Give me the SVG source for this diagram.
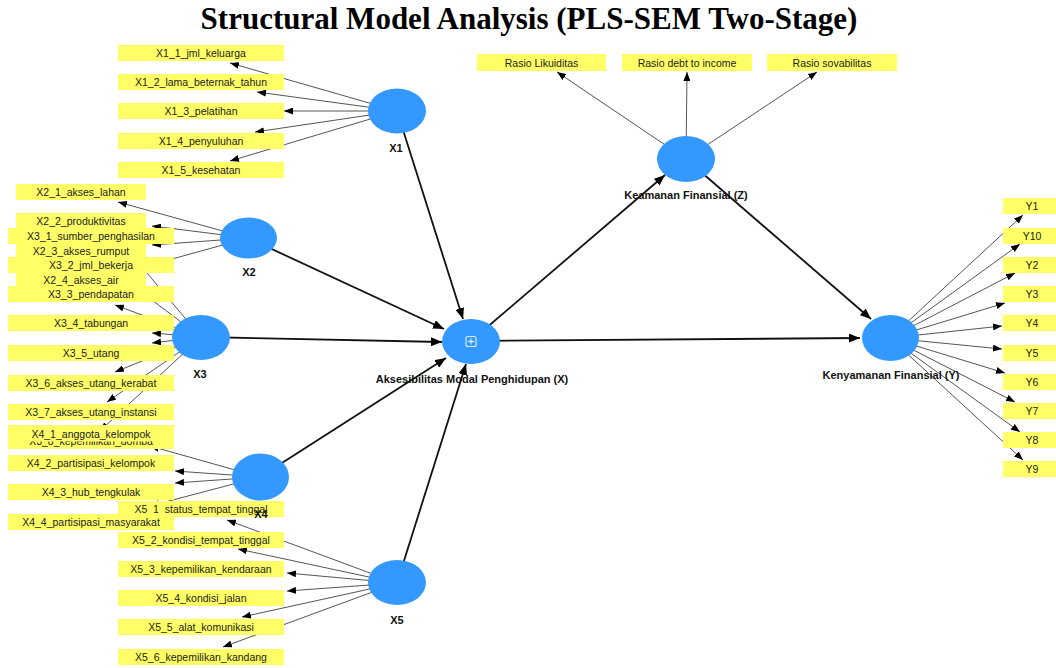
<svg xmlns="http://www.w3.org/2000/svg" width="1056" height="668" viewBox="0 0 1056 668">
<style>
.ind rect{fill:#FFFF66}
.ind text{font-family:"Liberation Sans",Arial,sans-serif;font-size:10.5px;fill:#222;text-anchor:middle}
.lat ellipse{fill:#3399FF}
.lat text{font-family:"Liberation Sans",Arial,sans-serif;font-size:11px;font-weight:bold;fill:#111;text-anchor:middle}
.out{stroke:#555;stroke-width:1;fill:none;marker-end:url(#ah)}
.str{stroke:#111;stroke-width:1.8;fill:none;marker-end:url(#ahb)}
.title{font-family:"Liberation Serif","Times New Roman",serif;font-size:31px;font-weight:bold;fill:#000;text-anchor:middle}
</style>
<defs>
<marker id="ah" markerUnits="userSpaceOnUse" markerWidth="9" markerHeight="7" refX="9" refY="3.5" orient="auto"><path d="M0,0 L9,3.5 L0,7 z" fill="#000"/></marker>
<marker id="ahb" markerUnits="userSpaceOnUse" markerWidth="11" markerHeight="9" refX="11" refY="4.5" orient="auto"><path d="M0,0 L11,4.5 L0,9 z" fill="#000"/></marker>
</defs>
<rect width="1056" height="668" fill="#fff"/>
<text class="title" x="529" y="29">Structural Model Analysis (PLS-SEM Two-Stage)</text>

<g id="connectors">
<line class="out" x1="397" y1="111" x2="230" y2="63"/>
<line class="out" x1="397" y1="111" x2="257" y2="92"/>
<line class="out" x1="397" y1="111" x2="284" y2="111"/>
<line class="out" x1="397" y1="111" x2="255" y2="132"/>
<line class="out" x1="397" y1="111" x2="230" y2="161"/>
<line class="out" x1="248" y1="238" x2="118" y2="202"/>
<line class="out" x1="248" y1="238" x2="152" y2="226"/>
<line class="out" x1="248" y1="238" x2="152" y2="245"/>
<line class="out" x1="248" y1="238" x2="125" y2="272"/>
<line class="out" x1="201" y1="337" x2="125" y2="247"/>
<line class="out" x1="201" y1="337" x2="120" y2="276"/>
<line class="out" x1="201" y1="337" x2="115" y2="305"/>
<line class="out" x1="201" y1="337" x2="152" y2="333"/>
<line class="out" x1="201" y1="337" x2="152" y2="343"/>
<line class="out" x1="201" y1="337" x2="115" y2="372"/>
<line class="out" x1="201" y1="337" x2="107" y2="402"/>
<line class="out" x1="201" y1="337" x2="100" y2="431"/>
<line class="out" x1="260" y1="477" x2="150" y2="446"/>
<line class="out" x1="260" y1="477" x2="175" y2="471"/>
<line class="out" x1="260" y1="477" x2="175" y2="483"/>
<line class="out" x1="260" y1="477" x2="150" y2="506"/>
<line class="out" x1="397" y1="583" x2="227" y2="520"/>
<line class="out" x1="397" y1="583" x2="238" y2="549"/>
<line class="out" x1="397" y1="583" x2="287" y2="573"/>
<line class="out" x1="397" y1="583" x2="287" y2="591"/>
<line class="out" x1="397" y1="583" x2="242" y2="617"/>
<line class="out" x1="397" y1="583" x2="223" y2="647"/>
<line class="out" x1="686" y1="159" x2="557" y2="72"/>
<line class="out" x1="686" y1="159" x2="687" y2="72"/>
<line class="out" x1="686" y1="159" x2="817" y2="72"/>
<line class="out" x1="890" y1="338" x2="1023" y2="215"/>
<line class="out" x1="890" y1="338" x2="1020" y2="244"/>
<line class="out" x1="890" y1="338" x2="1015" y2="273"/>
<line class="out" x1="890" y1="338" x2="1005" y2="303"/>
<line class="out" x1="890" y1="338" x2="1002" y2="326"/>
<line class="out" x1="890" y1="338" x2="1002" y2="349"/>
<line class="out" x1="890" y1="338" x2="1005" y2="373"/>
<line class="out" x1="890" y1="338" x2="1015" y2="402"/>
<line class="out" x1="890" y1="338" x2="1020" y2="432"/>
<line class="out" x1="890" y1="338" x2="1023" y2="460"/>
<line class="str" x1="397" y1="111" x2="463" y2="319"/>
<line class="str" x1="248" y1="238" x2="444" y2="329"/>
<line class="str" x1="201" y1="337" x2="442" y2="342"/>
<line class="str" x1="260" y1="477" x2="446" y2="358"/>
<line class="str" x1="397" y1="583" x2="466" y2="364"/>
<line class="str" x1="471" y1="341" x2="665" y2="175"/>
<line class="str" x1="686" y1="159" x2="871" y2="319"/>
<line class="str" x1="471" y1="341" x2="860" y2="338"/>
</g>

<g id="X1_1" class="ind"><rect x="118" y="45" width="166" height="16"/><text x="201" y="57">X1_1_jml_keluarga</text></g>
<g id="X1_2" class="ind"><rect x="118" y="74" width="166" height="16"/><text x="201" y="86">X1_2_lama_beternak_tahun</text></g>
<g id="X1_3" class="ind"><rect x="118" y="103" width="166" height="16"/><text x="201" y="115">X1_3_pelatihan</text></g>
<g id="X1_4" class="ind"><rect x="118" y="133" width="166" height="16"/><text x="201" y="145">X1_4_penyuluhan</text></g>
<g id="X1_5" class="ind"><rect x="118" y="162" width="166" height="16"/><text x="201" y="174">X1_5_kesehatan</text></g>

<g id="Z_1" class="ind"><rect x="477" y="54" width="129" height="17"/><text x="541.5" y="66.5">Rasio Likuiditas</text></g>
<g id="Z_2" class="ind"><rect x="622" y="54" width="130" height="17"/><text x="687" y="66.5">Rasio debt to income</text></g>
<g id="Z_3" class="ind"><rect x="767" y="54" width="130" height="17"/><text x="832" y="66.5">Rasio sovabilitas</text></g>

<g id="Y1" class="ind"><rect x="1003" y="198" width="58" height="16"/><text x="1032" y="210">Y1</text></g>
<g id="Y10" class="ind"><rect x="1003" y="228" width="58" height="16"/><text x="1032" y="240">Y10</text></g>
<g id="Y2" class="ind"><rect x="1003" y="257" width="58" height="16"/><text x="1032" y="269">Y2</text></g>
<g id="Y3" class="ind"><rect x="1003" y="286" width="58" height="16"/><text x="1032" y="298">Y3</text></g>
<g id="Y4" class="ind"><rect x="1003" y="315" width="58" height="16"/><text x="1032" y="327">Y4</text></g>
<g id="Y5" class="ind"><rect x="1003" y="345" width="58" height="16"/><text x="1032" y="357">Y5</text></g>
<g id="Y6" class="ind"><rect x="1003" y="374" width="58" height="16"/><text x="1032" y="386">Y6</text></g>
<g id="Y7" class="ind"><rect x="1003" y="403" width="58" height="16"/><text x="1032" y="415">Y7</text></g>
<g id="Y8" class="ind"><rect x="1003" y="432" width="58" height="16"/><text x="1032" y="444">Y8</text></g>
<g id="Y9" class="ind"><rect x="1003" y="461" width="58" height="16"/><text x="1032" y="473">Y9</text></g>

<g id="X2_1" class="ind"><rect x="16" y="184" width="130" height="16"/><text x="81" y="196">X2_1_akses_lahan</text></g>
<g id="X2_2" class="ind"><rect x="16" y="213" width="130" height="16"/><text x="81" y="225">X2_2_produktivitas</text></g>
<g id="X3_1" class="ind"><rect x="8" y="228" width="166" height="16"/><text x="91" y="240">X3_1_sumber_penghasilan</text></g>
<g id="X2_3" class="ind"><rect x="16" y="243" width="130" height="16"/><text x="81" y="255">X2_3_akses_rumput</text></g>
<g id="X3_2" class="ind"><rect x="8" y="257" width="166" height="16"/><text x="91" y="269">X3_2_jml_bekerja</text></g>
<g id="X2_4" class="ind"><rect x="16" y="272" width="130" height="16"/><text x="81" y="284">X2_4_akses_air</text></g>
<g id="X3_3" class="ind"><rect x="8" y="286" width="166" height="16"/><text x="91" y="298">X3_3_pendapatan</text></g>
<g id="X3_4" class="ind"><rect x="8" y="315" width="166" height="16"/><text x="91" y="327">X3_4_tabungan</text></g>
<g id="X3_5" class="ind"><rect x="8" y="345" width="166" height="16"/><text x="91" y="357">X3_5_utang</text></g>
<g id="X3_6" class="ind"><rect x="8" y="375" width="166" height="16"/><text x="91" y="387">X3_6_akses_utang_kerabat</text></g>
<g id="X3_7" class="ind"><rect x="8" y="404" width="166" height="16"/><text x="91" y="416">X3_7_akses_utang_instansi</text></g>
<g id="X3_8" class="ind"><rect x="8" y="433" width="166" height="16"/><text x="91" y="445">X3_8_kepemilikan_domba</text></g>

<g id="X5_1" class="ind"><rect x="118" y="501" width="166" height="16"/><text x="201" y="513">X5_1_status_tempat_tinggal</text></g>
<g id="X5_2" class="ind"><rect x="118" y="532" width="166" height="16"/><text x="201" y="544">X5_2_kondisi_tempat_tinggal</text></g>
<g id="X5_3" class="ind"><rect x="118" y="561" width="166" height="16"/><text x="201" y="573">X5_3_kepemilikan_kendaraan</text></g>
<g id="X5_4" class="ind"><rect x="118" y="590" width="166" height="16"/><text x="201" y="602">X5_4_kondisi_jalan</text></g>
<g id="X5_5" class="ind"><rect x="118" y="619" width="166" height="16"/><text x="201" y="631">X5_5_alat_komunikasi</text></g>
<g id="X5_6" class="ind"><rect x="118" y="649" width="166" height="16"/><text x="201" y="661">X5_6_kepemilikan_kandang</text></g>

<g id="X4_1" class="ind"><rect x="8" y="425" width="166" height="16.5"/><text x="91" y="437.5">X4_1_anggota_kelompok</text></g>
<g id="X4_2" class="ind"><rect x="8" y="455" width="166" height="16"/><text x="91" y="467">X4_2_partisipasi_kelompok</text></g>
<g id="X4_3" class="ind"><rect x="8" y="484" width="166" height="16"/><text x="91" y="496">X4_3_hub_tengkulak</text></g>
<g id="X4_4" class="ind"><rect x="8" y="514" width="166" height="16"/><text x="91" y="526">X4_4_partisipasi_masyarakat</text></g>

<g id="X1" class="lat"><ellipse cx="397" cy="111" rx="29" ry="22.5"/><text x="396" y="152">X1</text></g>
<g id="X2" class="lat"><ellipse cx="248.5" cy="238" rx="28.5" ry="20.5"/><text x="249" y="276">X2</text></g>
<g id="X3" class="lat"><ellipse cx="201" cy="337.5" rx="29" ry="22.5"/><text x="200" y="378">X3</text></g>
<g id="X4" class="lat"><ellipse cx="260.5" cy="477" rx="28.5" ry="23.5"/><text x="261" y="518">X4</text></g>
<g id="X5" class="lat"><ellipse cx="397" cy="582.5" rx="29" ry="22.5"/><text x="397" y="624">X5</text></g>
<g id="Z" class="lat"><ellipse cx="686" cy="159" rx="29" ry="23"/><text x="686" y="199">Keamanan Finansial (Z)</text></g>
<g id="X" class="lat"><ellipse cx="471" cy="341.5" rx="29" ry="22.5"/>
<rect x="466" y="336.5" width="10" height="10" rx="2" fill="none" stroke="#d8ecff" stroke-width="1.2"/>
<line x1="471" y1="338.5" x2="471" y2="344.5" stroke="#d8ecff" stroke-width="1.2"/>
<line x1="468" y1="341.5" x2="474" y2="341.5" stroke="#d8ecff" stroke-width="1.2"/>
<text x="472" y="383">Aksesibilitas Modal Penghidupan (X)</text></g>
<g id="Y" class="lat"><ellipse cx="890.5" cy="338" rx="28.5" ry="23"/><text x="891" y="379">Kenyamanan Finansial (Y)</text></g>
</svg>
